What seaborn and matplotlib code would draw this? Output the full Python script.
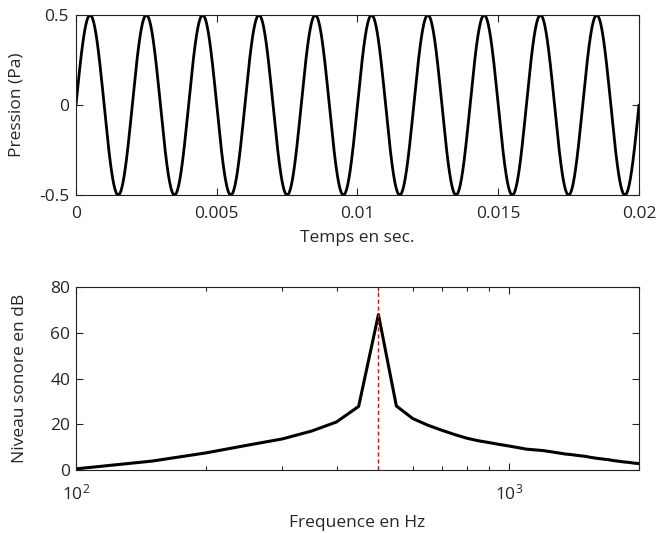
import numpy as np
import pandas as pd
import seaborn as sns
import matplotlib.pyplot as plt
import matplotlib.ticker as ticker

# signal parameters (pure tone)
amplitude = 0.5      # Pa
tone_freq = 500      # Hz
duration = 0.02      # s
n_samples = 2001

# spectrum (50 Hz bins)
freqs = [100, 150, 200, 250, 300, 350, 400, 450, 500, 550, 600, 650, 700,
         750, 800, 850, 900, 950, 1000, 1050, 1100, 1150, 1200, 1250, 1300,
         1350, 1400, 1450, 1500, 1550, 1600, 1650, 1700, 1750, 1800, 1850,
         1900, 1950, 2000]
levels_db = [0.5, 3.9, 7.5, 10.9, 13.6, 17.0, 21.0, 27.8, 68.0, 28.0, 22.5,
             19.6, 17.4, 15.5, 13.9, 12.8, 12.0, 11.2, 10.5, 9.8, 9.1, 8.8,
             8.5, 8.0, 7.5, 7.0, 6.7, 6.3, 6.0, 5.5, 5.1, 4.8, 4.5, 4.1, 3.8,
             3.5, 3.3, 3.0, 2.8]

time_ticks = [0, 0.005, 0.01, 0.015, 0.02]
time_labels = ["0", "0.005", "0.01", "0.015", "0.02"]
pressure_ticks = [-0.5, 0, 0.5]
pressure_labels = ["-0.5", "0", "0.5"]
db_ticks = [0, 20, 40, 60, 80]

sns.set_theme(style="ticks")
plt.rcParams['font.family'] = ['Open Sans', 'DejaVu Sans']
plt.rcParams['mathtext.fontset'] = 'custom'
plt.rcParams['mathtext.rm'] = 'Open Sans'
plt.rcParams['mathtext.it'] = 'Open Sans'

t = np.linspace(0, duration, n_samples)
signal = pd.DataFrame({"t": t, "p": amplitude * np.sin(2 * np.pi * tone_freq * t)})
spectrum = pd.DataFrame({"f": freqs, "L": levels_db})

fig = plt.figure(figsize=(6.59, 5.33), dpi=100)
ax1 = fig.add_axes([0.1153, 0.6341, 0.8543, 0.3377])
ax2 = fig.add_axes([0.1153, 0.1182, 0.8543, 0.3433])

# top: pressure vs time
sns.lineplot(data=signal, x="t", y="p", ax=ax1, color="black", linewidth=2)
ax1.set_xlim(0, duration)
ax1.set_ylim(-0.5, 0.5)
ax1.set_xticks(time_ticks)
ax1.set_xticklabels(time_labels)
ax1.set_yticks(pressure_ticks)
ax1.set_yticklabels(pressure_labels)
ax1.set_xlabel("Temps en sec.", fontsize=12.5, labelpad=6)
ax1.set_ylabel("Pression (Pa)", fontsize=12.5, labelpad=10)

# bottom: spectrum on log axis
sns.lineplot(data=spectrum, x="f", y="L", ax=ax2, color="black", linewidth=2.2)
ax2.axvline(tone_freq, color="red", linestyle="--", linewidth=1, dashes=(3, 2))
ax2.set_xscale("log")
ax2.set_xlim(100, 2000)
ax2.set_ylim(0, 80)
ax2.set_yticks(db_ticks)
ax2.xaxis.set_major_locator(ticker.LogLocator(base=10))
ax2.xaxis.set_minor_locator(ticker.LogLocator(base=10, subs=np.arange(2, 10)))
ax2.xaxis.set_minor_formatter(ticker.NullFormatter())
ax2.set_xlabel("Frequence en Hz", fontsize=12.5, labelpad=8)
ax2.set_ylabel("Niveau sonore en dB", fontsize=12.5, labelpad=16)

for ax in (ax1, ax2):
    for side in ax.spines.values():
        side.set_linewidth(0.8)
        side.set_color("#222222")
    ax.tick_params(which="major", direction="in", length=5, width=0.8,
                   top=True, right=True, labelsize=12.5, pad=5)
    ax.tick_params(which="minor", direction="in", length=3, width=0.8,
                   top=True, right=True)
ax1.tick_params(axis="x", which="major", pad=8)
ax2.tick_params(axis="x", which="major", pad=10)
ax2.tick_params(axis="y", which="major", pad=4)

fig.savefig("out.png", dpi=100)
